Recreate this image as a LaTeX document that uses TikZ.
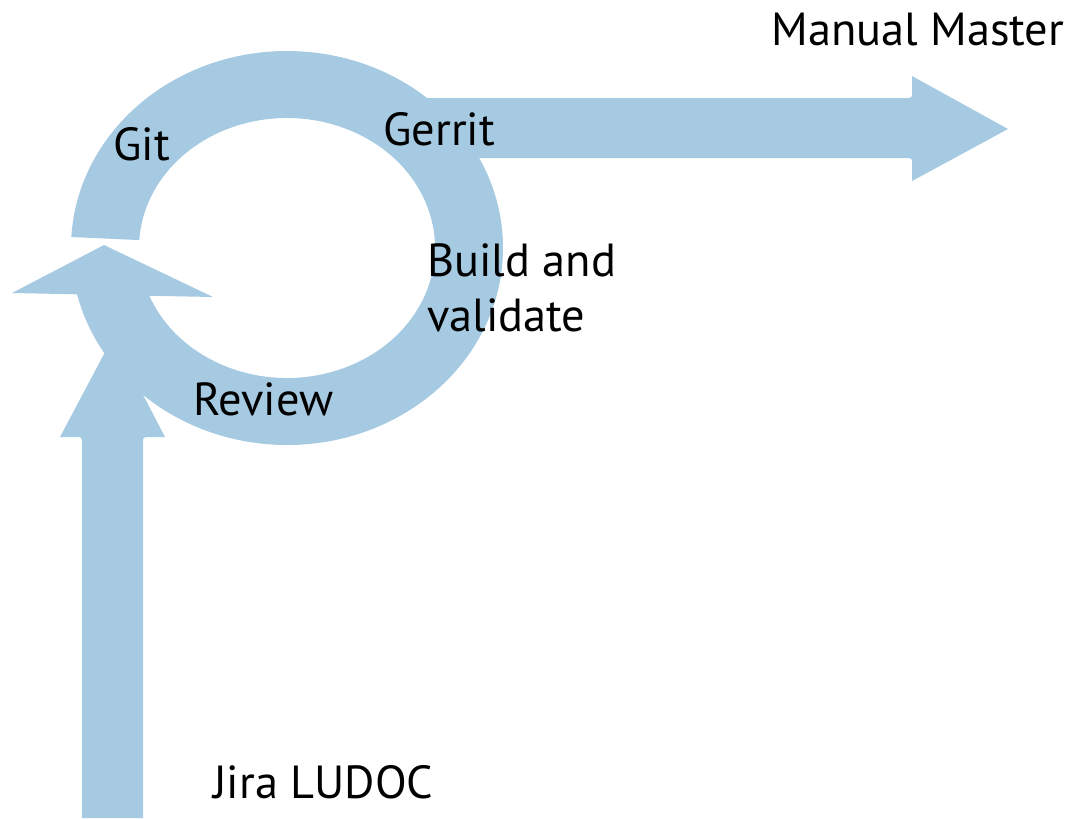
\documentclass[tikz,border=0pt]{standalone}
\usepackage{fontspec}
\setmainfont{PT Sans}
\usetikzlibrary{calc}
\definecolor{flowblue}{RGB}{166,202,226}
\tikzset{flow/.style={fill=flowblue, draw=none}}
\tikzset{lbl/.style={inner sep=0pt, anchor=base west, font=\fontsize{33}{40}\selectfont}}

\begin{document}
\begin{tikzpicture}[x=0.025cm, y=-0.025cm]
    \useasboundingbox (0, 0) rectangle (1069, 818);

    % input arrow from below
    \fill[flow] (82, 818) [rounded corners=2pt] -- (82, 437) [sharp corners] -- (60, 437) -- (113, 337) -- (165, 437) [rounded corners=2pt] -- (143, 437) [sharp corners] -- (143, 818) -- cycle;

    % loop
    \fill[flow] ($(287, 248) + (183.2:216 and 197)$) arc[start angle=183.2, end angle=528.5, x radius=216, y radius=197]
        -- ($(287, 248) + (520.5:148 and 130)$) arc[start angle=520.5, end angle=183.5, x radius=148, y radius=130] -- cycle;
    \fill[flow] (12, 293) -- (104, 245) -- (213, 297) -- cycle;

    % output arrow
    \fill[flow] (410, 98) [rounded corners=2pt] -- (912, 98) [sharp corners] -- (912, 76) -- (1008, 129) -- (912, 181) [rounded corners=2pt] -- (912, 158) [sharp corners] -- (410, 158) -- cycle;

    \node[lbl] (master) at (771, 45) {Manual Master};
    \node[lbl] (gerrit) at (383, 145) {Gerrit};
    \node[lbl] (git) at (113, 160) {Git};
    \node[lbl] (build) at (427, 276) {Build and};
    \node[lbl] (validate) at (427, 331) {validate};
    \node[lbl] (review) at (193, 415) {Review};
    \node[lbl] (jira) at (213, 798) {Jira LUDOC};
\end{tikzpicture}
\end{document}
